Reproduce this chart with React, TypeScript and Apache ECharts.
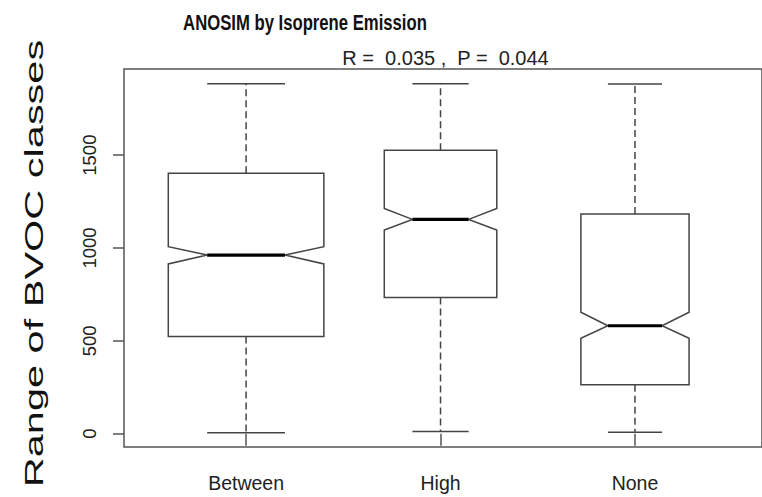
import React, { useEffect, useRef } from "react";
import * as echarts from "echarts";

// Groups and their five-number summaries (plus notch bounds)
const categories = ["Between", "High", "None"];
const whiskerLow = [5, 12, 7];
const quartile1 = [523, 733, 263];
const notchLow = [914, 1097, 514];
const medians = [962, 1154, 581];
const notchHigh = [1007, 1213, 654];
const quartile3 = [1402, 1527, 1183];
const whiskerHigh = [1885, 1885, 1883];
// Observations per group: box widths scale with sqrt(n) (varwidth)
const groupSize = [893, 467, 432];

const yTicks = [0, 500, 1000, 1500];
const xTicks = [1, 2, 3];

const titleText = "ANOSIM by Isoprene Emission";
const subtitleText = "R =  0.035 ,  P =  0.044";
const yAxisTitle = "Range of BVOC classes";

const FONT = "'Liberation Sans', Arial, Helvetica, sans-serif";
const INK = "#444";

const maxRootN = Math.sqrt(Math.max(...groupSize));
const rows = categories.map((_, i) => [
  i + 1,
  whiskerLow[i],
  quartile1[i],
  notchLow[i],
  medians[i],
  notchHigh[i],
  quartile3[i],
  whiskerHigh[i],
  (0.4 * Math.sqrt(groupSize[i])) / maxRootN,
]);

export default function App() {
  const ref = useRef<HTMLDivElement>(null);

  useEffect(() => {
    if (!ref.current) return;
    const chart = echarts.init(ref.current, null, { renderer: "svg" });

    const option: any = {
      animation: false,
      backgroundColor: "#ffffff",
      grid: {
        left: 124,
        top: 69,
        width: 648,
        height: 378,
        show: true,
        borderColor: "#555",
        borderWidth: 1.5,
        backgroundColor: "transparent",
      },
      xAxis: {
        type: "value",
        min: 0.3722,
        max: 3.6532,
        axisLine: { show: false },
        splitLine: { show: false },
        axisTick: {
          show: true,
          customValues: xTicks,
          length: 12,
          lineStyle: { color: "#555", width: 1.5 },
        },
        axisLabel: {
          customValues: xTicks,
          formatter: (v: number) => categories[Math.round(v) - 1] ?? "",
          fontSize: 19.5,
          fontFamily: FONT,
          color: "#222",
          margin: 26,
        },
      },
      yAxis: {
        type: "value",
        min: -72,
        max: 1964,
        axisLine: { show: false },
        splitLine: { show: false },
        axisTick: {
          show: true,
          customValues: yTicks,
          length: 11,
          lineStyle: { color: "#555", width: 1.5 },
        },
        axisLabel: {
          customValues: yTicks,
          formatter: (v: number) => String(v),
          rotate: 90,
          fontSize: 18.5,
          fontFamily: FONT,
          color: "#222",
          margin: 25,
        },
      },
      graphic: [
        {
          type: "text",
          x: 305,
          y: 22,
          scaleY: 1.33,
          style: {
            text: titleText,
            font: `bold 16.7px ${FONT}`,
            fill: "#111",
            align: "center",
            verticalAlign: "middle",
          },
        },
        {
          type: "text",
          x: 445.5,
          y: 58,
          style: {
            text: subtitleText,
            font: `20px ${FONT}`,
            fill: "#222",
            align: "center",
            verticalAlign: "middle",
          },
        },
        {
          type: "text",
          x: 34,
          y: 263.5,
          rotation: Math.PI / 2,
          scaleX: 1.66,
          style: {
            text: yAxisTitle,
            font: `25px ${FONT}`,
            fill: "#111",
            align: "center",
            verticalAlign: "middle",
          },
        },
      ],
      series: [
        {
          type: "custom",
          data: rows,
          encode: { x: 0, y: [1, 2, 3, 4, 5, 6, 7] },
          renderItem: (_params: any, api: any) => {
            const x = api.value(0);
            const lo = api.value(1);
            const q1 = api.value(2);
            const nl = api.value(3);
            const med = api.value(4);
            const nh = api.value(5);
            const q3 = api.value(6);
            const hi = api.value(7);
            const h = api.value(8);
            const P = (dx: number, v: number) => api.coord([x + dx, v]);

            const box = [
              P(-h, q1),
              P(-h, nl),
              P(-h / 2, med),
              P(-h, nh),
              P(-h, q3),
              P(h, q3),
              P(h, nh),
              P(h / 2, med),
              P(h, nl),
              P(h, q1),
            ];
            const seg = (a: number[], b: number[], style: any) => ({
              type: "line",
              shape: { x1: a[0], y1: a[1], x2: b[0], y2: b[1] },
              style,
            });
            const dashed = { stroke: INK, lineWidth: 1.5, lineDash: [7, 4] };
            const solid = { stroke: INK, lineWidth: 1.5 };

            return {
              type: "group",
              children: [
                seg(P(0, q3), P(0, hi), dashed),
                seg(P(0, q1), P(0, lo), dashed),
                seg(P(-h / 2, hi), P(h / 2, hi), solid),
                seg(P(-h / 2, lo), P(h / 2, lo), solid),
                {
                  type: "polygon",
                  shape: { points: box },
                  style: { fill: "#ffffff", stroke: INK, lineWidth: 1.5, lineJoin: "miter" },
                },
                seg(P(-h / 2, med), P(h / 2, med), { stroke: "#000", lineWidth: 3.2 }),
              ],
            };
          },
        },
      ],
    };

    chart.setOption(option);
    return () => chart.dispose();
  }, []);

  return (
    <div
      ref={ref}
      style={{ position: "absolute", left: 0, top: 0, width: 762, height: 497 }}
    />
  );
}
